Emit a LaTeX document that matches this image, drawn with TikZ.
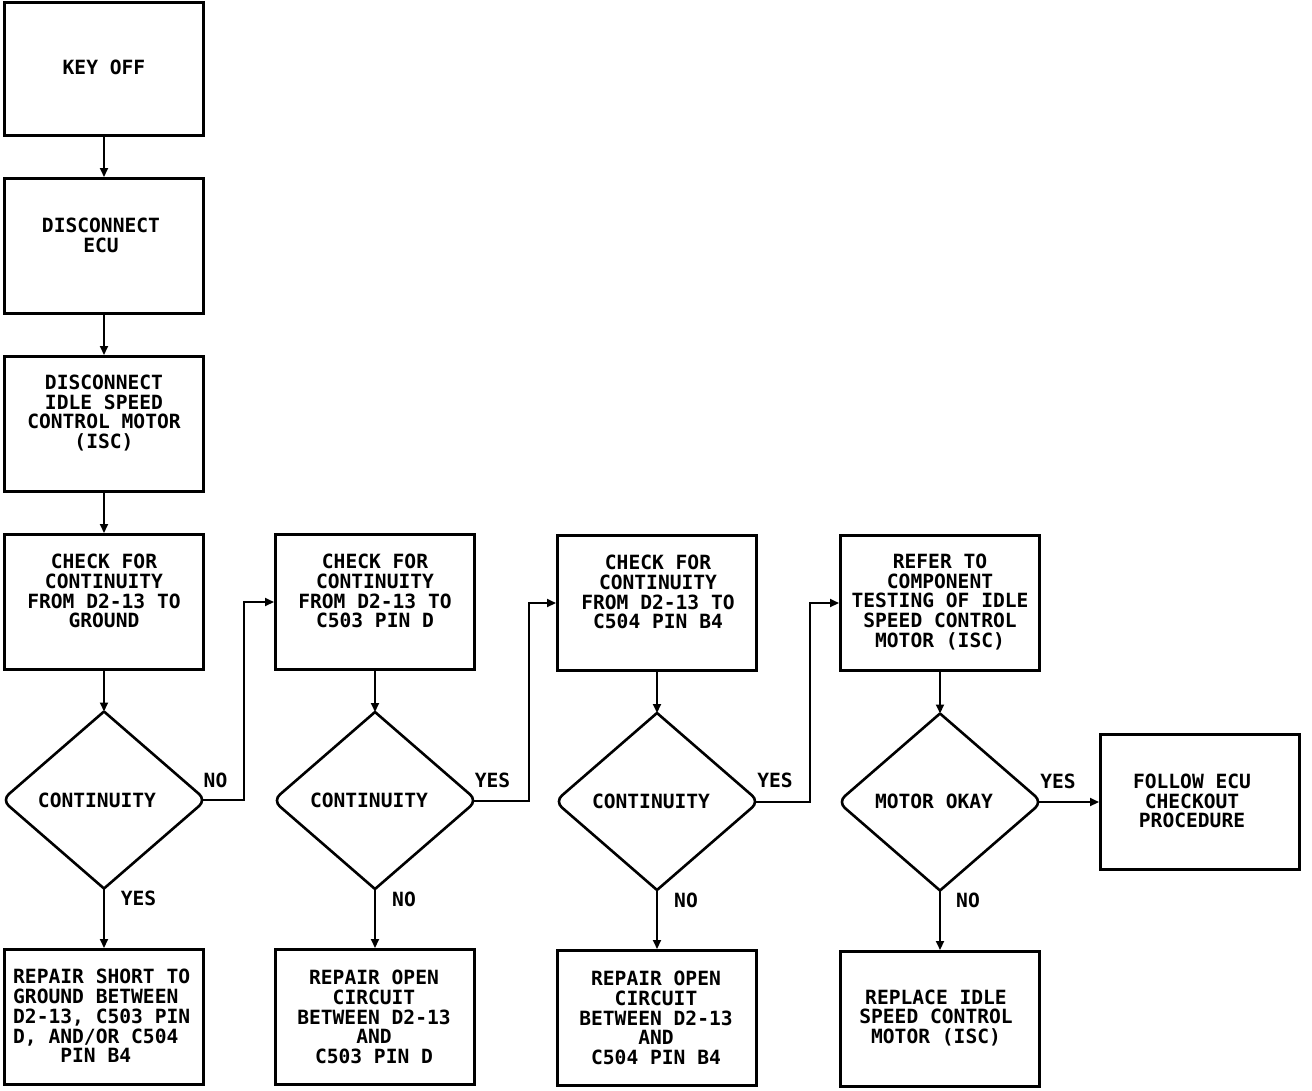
\documentclass[tikz,border=0pt]{standalone}
\usepackage{fontspec}
\newfontfamily\flowfont{DejaVu Sans Mono Bold}
\usetikzlibrary{shapes.geometric,arrows.meta,calc}
\newcommand{\flowdiam}[1]{%
  \draw[diaml] (#1.north) -- ($(#1.north)!.5!(#1.east)$)
    {[rounded corners=9pt] -- (#1.east) -- ($(#1.east)!.5!(#1.south)$)}
    -- (#1.south) -- ($(#1.south)!.5!(#1.west)$)
    {[rounded corners=9pt] -- (#1.west) -- ($(#1.west)!.5!(#1.north)$)}
    -- cycle;}
\begin{document}
\begin{tikzpicture}[x=1pt,y=-1pt,
  box/.style={draw,line width=3pt,inner sep=0pt,minimum width=199pt,minimum height=135pt},
  txt/.style={font=\flowfont\fontsize{19.6}{19.8}\selectfont,align=center,inner sep=0pt},
  dia/.style={shape=diamond,draw=none,minimum width=204pt,minimum height=177pt,inner sep=0pt,outer sep=0pt},
  diaml/.style={line width=2.6pt,line join=round},
  conn/.style={line width=2pt,-{Triangle[length=9pt,width=8pt]}}]
\fill[white] (0,0) rectangle (1312,1090);
\useasboundingbox (0,0) rectangle (1312,1090);

% column 1
\node[box,minimum height=133pt] (keyoff) at (104,69) {};
\node[txt] (tkeyoff) at (104,67) {KEY OFF};
\node[box] (ecu) at (104,246) {};
\node[txt] (tecu) at (101,235) {DISCONNECT\\ECU};
\node[box] (isc) at (104,424) {};
\node[txt] (tisc) at (104,413) {DISCONNECT\\IDLE SPEED\\CONTROL MOTOR\\(ISC)};
\node[box] (chk1) at (104,602) {};
\node[txt] (tchk1) at (104,591) {CHECK FOR\\CONTINUITY\\FROM D2-13 TO\\GROUND};
\node[dia] (d1) at (104,800) {};
\node[txt] (td1) at (97,800) {CONTINUITY};
\node[box] (rep1) at (104,1017) {};
\node[txt,align=left,anchor=west] (trep1) at (13,1016) {REPAIR SHORT TO\\GROUND BETWEEN\\D2-13, C503 PIN\\D, AND/OR C504\\\phantom{XXXX}PIN B4};

% column 2
\node[box] (chk2) at (375,602) {};
\node[txt] (tchk2) at (375,591) {CHECK FOR\\CONTINUITY\\FROM D2-13 TO\\C503 PIN D};
\node[dia] (d2) at (375,800.5) {};
\node[txt] (td2) at (369,800) {CONTINUITY};
\node[box] (rep2) at (375,1017) {};
\node[txt] (trep2) at (374,1017) {REPAIR OPEN\\CIRCUIT\\BETWEEN D2-13\\AND\\C503 PIN D};

% column 3
\node[box] (chk3) at (657,603) {};
\node[txt] (tchk3) at (658,592) {CHECK FOR\\CONTINUITY\\FROM D2-13 TO\\C504 PIN B4};
\node[dia] (d3) at (657,801.5) {};
\node[txt] (td3) at (651,801) {CONTINUITY};
\node[box] (rep3) at (657,1018) {};
\node[txt] (trep3) at (656,1018) {REPAIR OPEN\\CIRCUIT\\BETWEEN D2-13\\AND\\C504 PIN B4};

% column 4
\node[box] (chk4) at (940,603) {};
\node[txt] (tchk4) at (940,602) {REFER TO\\COMPONENT\\TESTING OF IDLE\\SPEED CONTROL\\MOTOR (ISC)};
\node[dia] (d4) at (940,802) {};
\node[txt] (td4) at (934,801) {MOTOR OKAY};
\node[box] (rep4) at (940,1019) {};
\node[txt] (trep4) at (936,1018) {REPLACE IDLE\\SPEED CONTROL\\MOTOR (ISC)};
\node[box] (follow) at (1200,802) {};
\node[txt] (tfollow) at (1192,801) {FOLLOW ECU\\CHECKOUT\\PROCEDURE};

% diamond outlines
\flowdiam{d1}
\flowdiam{d2}
\flowdiam{d3}
\flowdiam{d4}

% connectors
\draw[conn] (keyoff) -- (ecu);
\draw[conn] (ecu) -- (isc);
\draw[conn] (isc) -- (chk1);
\draw[conn] (chk1) -- (d1);
\draw[conn] (d1) -- (rep1);
\draw[conn] (chk2) -- (d2);
\draw[conn] (d2) -- (rep2);
\draw[conn] (chk3) -- (d3);
\draw[conn] (d3) -- (rep3);
\draw[conn] (chk4) -- (d4);
\draw[conn] (d4) -- (rep4);
\draw[conn] ([xshift=-5pt]d1.east) -- ++(43,0) |- (chk2);
\draw[conn] ([xshift=-5pt]d2.east) -- ++(57,0) |- (chk3);
\draw[conn] ([xshift=-5pt]d3.east) -- ++(56,0) |- (chk4);
\draw[conn] ([xshift=-5pt]d4.east) -- (follow);

% branch labels
\node[txt] (l1) at (215.5,780) {NO};
\node[txt] (l2) at (492.5,780) {YES};
\node[txt] (l3) at (775,780) {YES};
\node[txt] (l4) at (1058,781) {YES};
\node[txt] (l5) at (138.5,898) {YES};
\node[txt] (l6) at (404,899) {NO};
\node[txt] (l7) at (686,900) {NO};
\node[txt] (l8) at (968,900) {NO};
\end{tikzpicture}
\end{document}
